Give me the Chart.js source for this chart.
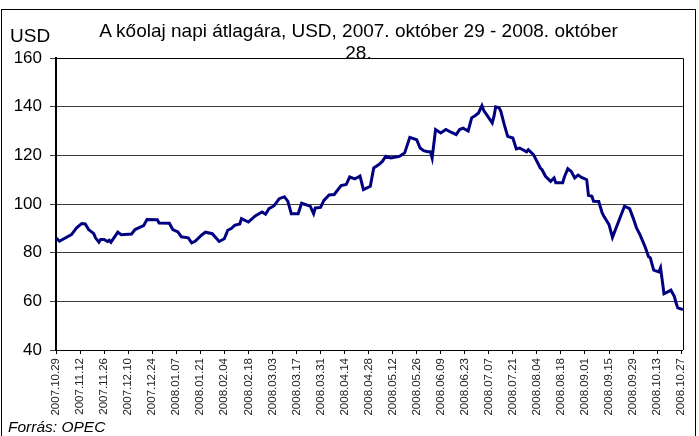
<!DOCTYPE html>
<html>
<head>
<meta charset="utf-8">
<script src="https://cdn.jsdelivr.net/npm/chart.js@4"></script>
<style>
  html, body { margin: 0; padding: 0; background: #fff; }
  #wrap { position: relative; width: 699px; height: 436px; overflow: hidden; font-family: "Liberation Sans", Arial, sans-serif; }
  #frame { position: absolute; left: 1px; top: 9px; width: 695px; height: 440px; border: 1px solid #000; box-sizing: border-box; }
  canvas { position: absolute; left: 0; top: 0; }
  .txt { position: absolute; color: #000; white-space: nowrap; }
  #title { left: 0; width: 717px; top: 20px; text-align: center; font-size: 19px; line-height: 22px; }
  #usd { left: 10px; top: 25px; font-size: 19px; }
  #src { left: 8px; top: 418px; font-size: 15.5px; font-style: italic; }
</style>
</head>
<body>
<div id="wrap">
  <div id="frame"></div>
  <canvas id="c" width="699" height="436"></canvas>
  <div class="txt" id="title">A kőolaj napi átlagára, USD, 2007. október 29 - 2008. október<br>28.</div>
  <div class="txt" id="usd">USD</div>
  <div class="txt" id="src">Forrás: OPEC</div>
</div>
<script>
// Day offsets from 2007.10.29 and the OPEC basket price (USD)
const days = [0,2,9,12,15,17,19,22,23,25,26,28,30,31,32,36,38,44,46,51,53,59,60,66,68,71,73,77,79,81,85,87,91,95,98,100,102,104,107,108,112,116,120,122,124,127,130,133,135,137,141,143,148,150,151,154,156,159,162,166,169,171,174,177,179,183,185,188,190,192,195,200,203,206,210,212,214,216,218,219,221,224,227,230,233,235,237,240,242,244,246,248,249,252,254,255,256,258,259,261,263,266,268,270,274,275,278,282,283,285,288,290,291,295,296,298,300,302,304,306,309,310,312,313,316,318,319,322,324,328,331,334,336,338,340,343,345,346,348,351,352,354,357,358,360,361,362,365];
const prices = [86.1,84.7,87.4,90.2,92.0,91.8,89.5,87.8,86.1,84.3,85.4,85.4,84.6,85.1,84.3,88.4,87.4,87.7,89.5,91.1,93.6,93.5,92.2,92.1,89.5,88.5,86.5,86.1,84.0,84.7,87.4,88.4,87.8,84.6,85.7,89.2,89.9,91.2,91.8,94.0,92.6,95.1,96.7,95.8,98.1,99.3,102.2,103.0,101.1,96.0,96.0,100.3,99.1,96.0,98.4,98.6,101.5,103.7,103.9,107.6,108.0,111.1,110.3,111.5,105.9,107.3,114.8,116.2,117.5,119.6,118.9,119.6,121.0,127.4,126.4,123.0,121.9,121.6,121.4,118.9,130.6,129.2,130.6,129.5,128.5,130.6,131.2,130.0,135.4,136.3,137.4,140.4,138.5,135.4,133.3,136.0,139.9,139.5,138.1,132.6,127.8,127.1,122.6,123.0,121.4,122.3,120.3,114.8,114.1,111.4,109.3,110.7,108.7,108.7,111.1,114.5,113.4,110.7,111.9,110.9,110.0,103.6,103.2,101.1,101.0,96.3,95.0,91.5,86.3,93.6,99.1,98.1,94.3,90.2,87.4,82.4,78.3,77.9,72.8,72.1,73.8,63.1,64.2,64.6,62.1,59.4,57.3,56.6];
const tickLabels = ['2007.10.29','2007.11.12','2007.11.26','2007.12.10','2007.12.24','2008.01.07','2008.01.21','2008.02.04','2008.02.18','2008.03.03','2008.03.17','2008.03.31','2008.04.14','2008.04.28','2008.05.12','2008.05.26','2008.06.09','2008.06.23','2008.07.07','2008.07.21','2008.08.04','2008.08.18','2008.09.01','2008.09.15','2008.09.29','2008.10.13','2008.10.27'];
const yTicks = [40,60,80,100,120,140,160];

const points = days.map((d, i) => ({x: d, y: prices[i]}));

const framePlugin = {
  id: 'frame',
  afterDraw(chart) {
    const a = chart.chartArea, ctx = chart.ctx;
    ctx.save();
    ctx.strokeStyle = '#000';
    ctx.lineWidth = 1;
    ctx.beginPath();
    ctx.moveTo(a.left, Math.round(a.top) + 0.5);
    ctx.lineTo(Math.round(a.right) + 0.5, Math.round(a.top) + 0.5);
    ctx.lineTo(Math.round(a.right) + 0.5, a.bottom);
    ctx.stroke();
    ctx.restore();
  }
};

new Chart(document.getElementById('c'), {
  type: 'line',
  data: {
    datasets: [{
      data: points,
      borderColor: '#000080',
      borderWidth: 3,
      pointRadius: 0,
      tension: 0,
      fill: false
    }]
  },
  options: {
    responsive: false,
    animation: false,
    events: [],
    layout: { padding: { left: 0, right: 10, top: 58, bottom: 0 } },
    plugins: { legend: { display: false }, tooltip: { enabled: false }, title: { display: false } },
    scales: {
      x: {
        type: 'linear',
        min: 0,
        max: 365,
        afterFit: s => { s.height = 86; },
        afterBuildTicks: s => { s.ticks = tickLabels.map((_, i) => ({ value: i * 14 })); },
        ticks: {
          autoSkip: false,
          minRotation: 90,
          maxRotation: 90,
          padding: 4,
          color: '#222',
          font: { family: '"Liberation Sans", Arial, sans-serif', size: 11.5 },
          callback: v => tickLabels[Math.round(v / 14)]
        },
        grid: { drawOnChartArea: false, drawTicks: true, tickLength: 4, color: '#000', lineWidth: 1 },
        border: { display: true, color: '#000', width: 1 }
      },
      y: {
        min: 40,
        max: 160,
        afterFit: s => { s.width = 56; },
        afterBuildTicks: s => { s.ticks = yTicks.map(v => ({ value: v })); },
        ticks: {
          padding: 8,
          color: '#000',
          font: { family: '"Liberation Sans", Arial, sans-serif', size: 17 }
        },
        grid: { color: '#3a3a3a', lineWidth: 1, tickLength: 6, drawTicks: true },
        border: { display: true, color: '#000', width: 2 }
      }
    }
  },
  plugins: [framePlugin]
});
</script>
</body>
</html>
